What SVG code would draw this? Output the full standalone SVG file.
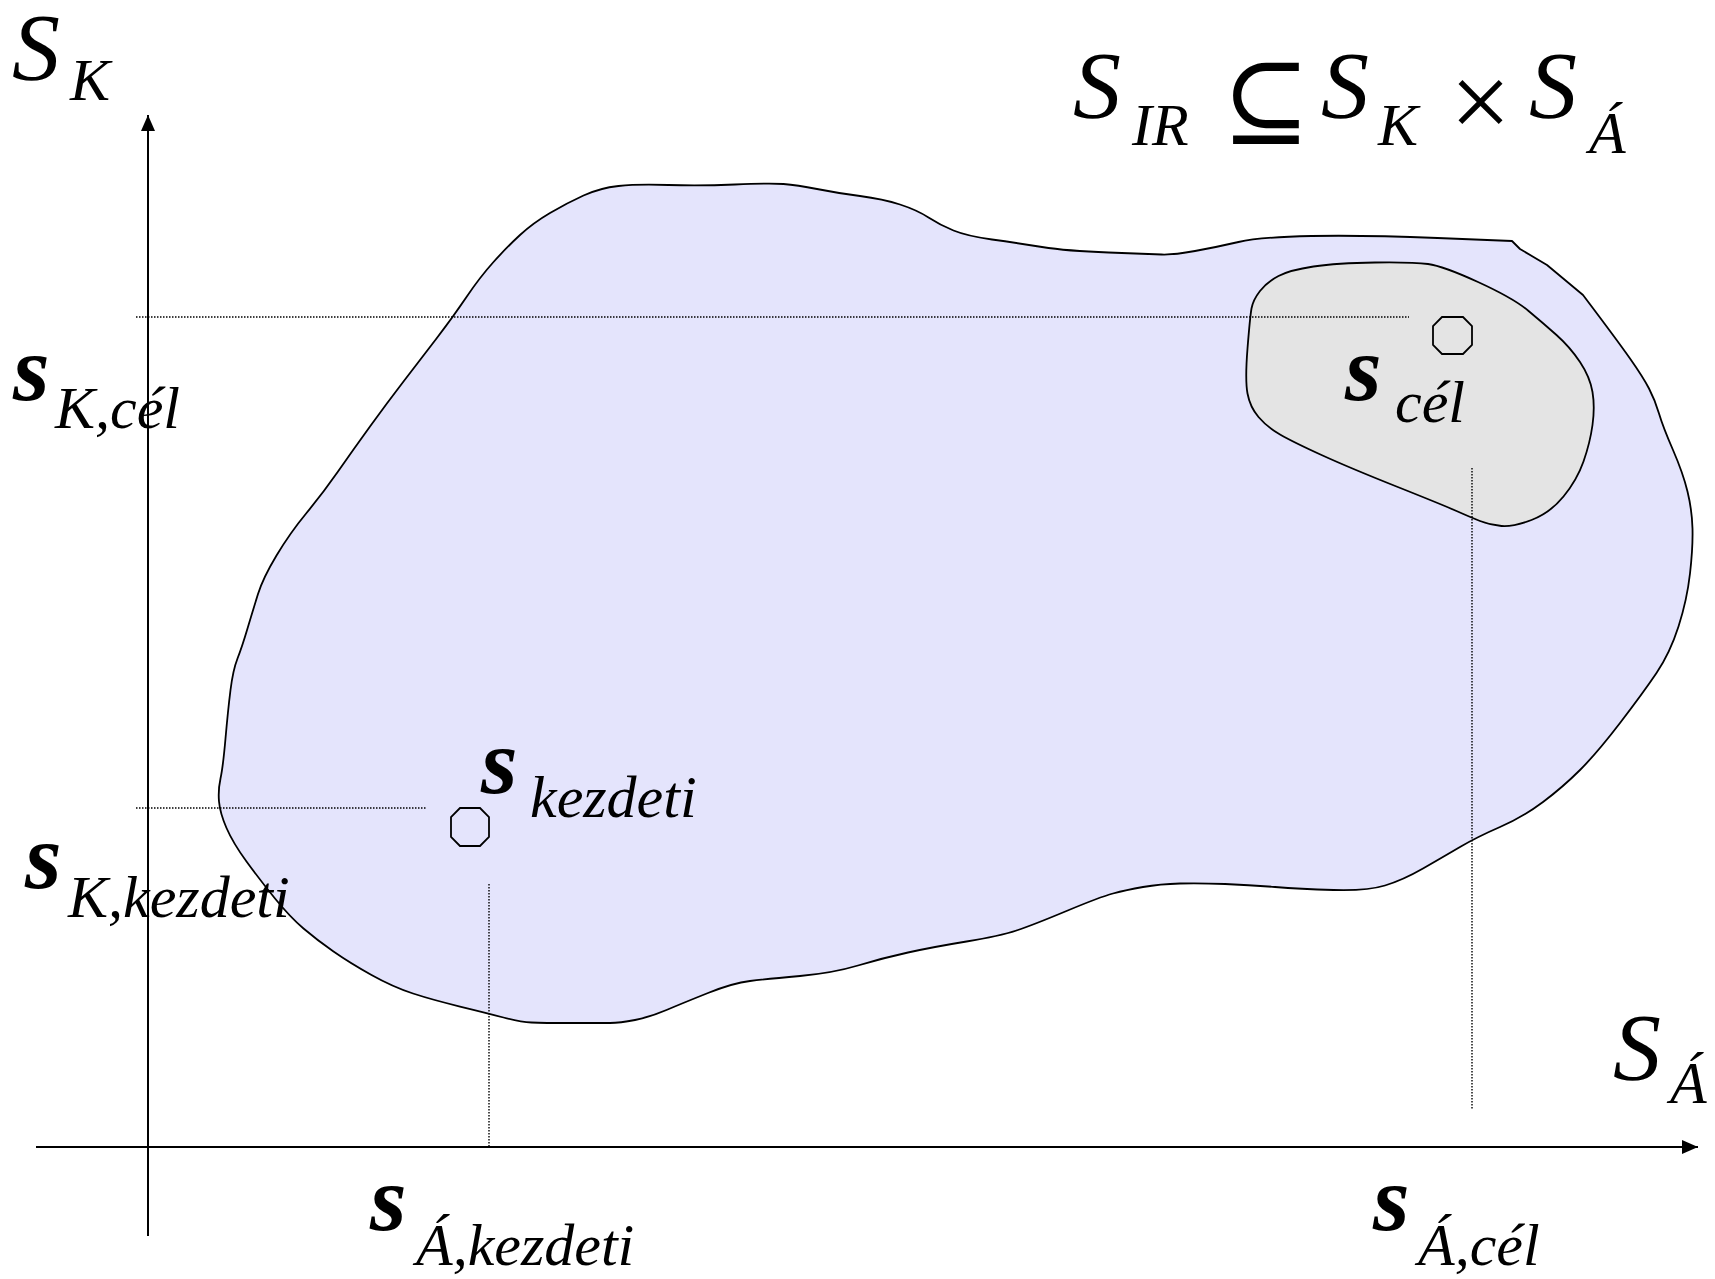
<svg xmlns="http://www.w3.org/2000/svg" width="1715" height="1279" viewBox="0 0 1715 1279">
<style>
.lbl{font-family:'Liberation Serif','Times New Roman','DejaVu Serif',serif;font-style:italic;fill:#000}
.up{font-family:'Liberation Serif','Times New Roman','DejaVu Serif',serif;font-style:normal;fill:#000}
.b{font-weight:bold}
</style>
<defs>
<marker id="arr" viewBox="0 0 16 14" refX="16" refY="7" markerWidth="16" markerHeight="14" markerUnits="userSpaceOnUse" orient="auto">
<path d="M0,0 L16,7 L0,14 Z" fill="#000"/>
</marker>
</defs>
<rect width="1715" height="1279" fill="#fff"/>
<g id="region-ir">
<path stroke="#000" stroke-width="1.8" stroke-linejoin="round" fill="#E4E4FC" d="M258,594 Q263,578 276.5,555.5 Q290,533 306.5,513 Q323,493 338,471.5 Q353,450 370,426.5 Q387,403 403.5,381.5 Q420,360 436.5,338.5 Q453,317 466.5,297 Q480,277 493.5,262 Q507,247 520,235 Q533,223 550,213 Q567,203 583.5,195.5 Q600,188 618.5,186 Q637,184 668.5,185 Q700,186 735,184.5 Q770,183 783.5,184 Q797,185 817,189 Q837,193 860,196 Q883,199 900,204.5 Q917,210 928.5,217.5 Q940,225 953.5,230.5 Q967,236 992,239.5 Q1017,243 1042,247 Q1067,251 1108.5,252.5 Q1150,254 1161.5,254.5 Q1173,255 1195,251 Q1217,247 1238.5,242 Q1260,237 1311.5,236 Q1363,235 1437.5,238 L1512,241 L1520,249 L1547,265 L1583,295 Q1617,340 1630,358.5 Q1643,377 1649,388.5 Q1655,400 1659,413.5 Q1663,427 1673,450 Q1683,473 1687.5,491.5 Q1692,510 1692.5,528.5 Q1693,547 1690,573.5 Q1687,600 1678.5,626.5 Q1670,653 1656.5,673 Q1643,693 1620,723 Q1597,753 1580,770 Q1563,787 1543,802 Q1523,817 1500,827 Q1477,837 1460,847 Q1443,857 1423,868.5 Q1403,880 1385,885.5 Q1367,891 1333.5,890 Q1300,889 1275,887 Q1250,885 1225,884 Q1200,883 1180,883.5 Q1160,884 1143,887 Q1126,890 1113,893.5 Q1100,897 1066.5,911 Q1033,925 1016.5,930.5 Q1000,936 966.5,941.5 Q933,947 908,952.5 Q883,958 858,965.5 Q833,973 800,976 Q767,979 750,981 Q733,983 708,993 Q683,1003 666.5,1010 Q650,1017 635,1020 Q620,1023 610,1023 Q600,1023 571.5,1023 Q543,1023 531.5,1022.5 Q520,1022 503.5,1017.5 Q487,1013 460,1006.5 Q433,1000 413,993.5 Q393,987 371.5,975 Q350,963 333.5,951.5 Q317,940 303.5,928.5 Q290,917 275,898.5 Q260,880 246.5,861.5 Q233,843 226.5,828 Q220,813 219,801.5 Q218,790 220.5,778.5 Q223,767 225.5,738.5 Q228,710 230.5,690 Q233,670 237.5,658.5 Q242,647 247.5,628.5 Q253,610 258,594 Z"/>
</g>
<g id="region-cel">
<path stroke="#000" stroke-width="1.8" stroke-linejoin="round" fill="#E4E4E4" d="M1251.5,308.5 Q1253,300 1260,291 Q1267,282 1278.5,276 Q1290,270 1313.5,266.5 Q1337,263 1375,262.5 Q1413,262 1428,264 Q1443,266 1478,282 Q1513,298 1528,310.5 Q1543,323 1556.5,335 Q1570,347 1580,362 Q1590,377 1592.5,392 Q1595,407 1592.5,425 Q1590,443 1583.5,461.5 Q1577,480 1563.5,496.5 Q1550,513 1531.5,520 Q1513,527 1501.5,526 Q1490,525 1480,521 Q1470,517 1456.5,511 Q1443,505 1396.5,486.5 Q1350,468 1321.5,455 Q1293,442 1280,434.5 Q1267,427 1258.5,417 Q1250,407 1247.5,393.5 Q1245,380 1247.5,348.5 Q1250,317 1251.5,308.5 Z"/>
</g>
<g id="connectors" stroke="#000" fill="none">
<line stroke-width="2" x1="148" y1="1236" x2="148" y2="115" marker-end="url(#arr)"/>
<line stroke-width="2" x1="36" y1="1147" x2="1698" y2="1147" marker-end="url(#arr)"/>
<g stroke-width="1.4" stroke-dasharray="1.5 1.5">
<line x1="136" y1="317" x2="1409" y2="317"/>
<line x1="1472" y1="468" x2="1472" y2="1109"/>
<line x1="136" y1="808" x2="427" y2="808"/>
<line x1="489" y1="884" x2="489" y2="1146"/>
</g>
</g>
<g id="point-cel">
<polygon fill="none" stroke="#000" stroke-width="1.8" points="1442,317 1463,317 1472,326 1472,345 1463,354 1442,354 1433,345 1433,326"/>
</g>
<g id="point-kezdeti">
<polygon fill="none" stroke="#000" stroke-width="1.8" points="460,808 480,808 489,817 489,837 480,846 460,846 451,837 451,817"/>
</g>
<g id="label-SK">
<text class="lbl" x="12" y="80" font-size="96">S</text>
<text class="lbl" x="70" y="100" font-size="60">K</text>
</g>
<g id="label-title">
<text class="lbl" x="1073" y="118" font-size="96">S</text>
<text class="lbl" x="1132" y="145" font-size="60">IR</text>
<text class="up" x="1222" y="136" font-size="105">⊆</text>
<text class="lbl" x="1321" y="118" font-size="96">S</text>
<text class="lbl" x="1378" y="145" font-size="60">K</text>
<text class="up" x="1450" y="138" font-size="108">×</text>
<text class="lbl" x="1529" y="118" font-size="96">S</text>
<text class="lbl" x="1589" y="153" font-size="60">Á</text>
</g>
<g id="label-sKcel">
<text class="lbl b" x="13" y="400" font-size="94">s</text>
<text class="lbl" x="55" y="428" font-size="60">K,cél</text>
</g>
<g id="label-scel">
<text class="lbl b" x="1345" y="400" font-size="94">s</text>
<text class="lbl" x="1395" y="422" font-size="60">cél</text>
</g>
<g id="label-skezdeti">
<text class="lbl b" x="481" y="793" font-size="94">s</text>
<text class="lbl" x="530" y="817" font-size="60">kezdeti</text>
</g>
<g id="label-sKkezdeti">
<text class="lbl b" x="25" y="888" font-size="94">s</text>
<text class="lbl" x="68" y="917" font-size="60">K,kezdeti</text>
</g>
<g id="label-sAkezdeti">
<text class="lbl b" x="370" y="1230" font-size="94">s</text>
<text class="lbl" x="416" y="1265" font-size="60">Á,kezdeti</text>
</g>
<g id="label-sAcel">
<text class="lbl b" x="1373" y="1230" font-size="94">s</text>
<text class="lbl" x="1418" y="1265" font-size="60">Á,cél</text>
</g>
<g id="label-SA">
<text class="lbl" x="1613" y="1080" font-size="96">S</text>
<text class="lbl" x="1670" y="1103" font-size="60">Á</text>
</g>
</svg>
